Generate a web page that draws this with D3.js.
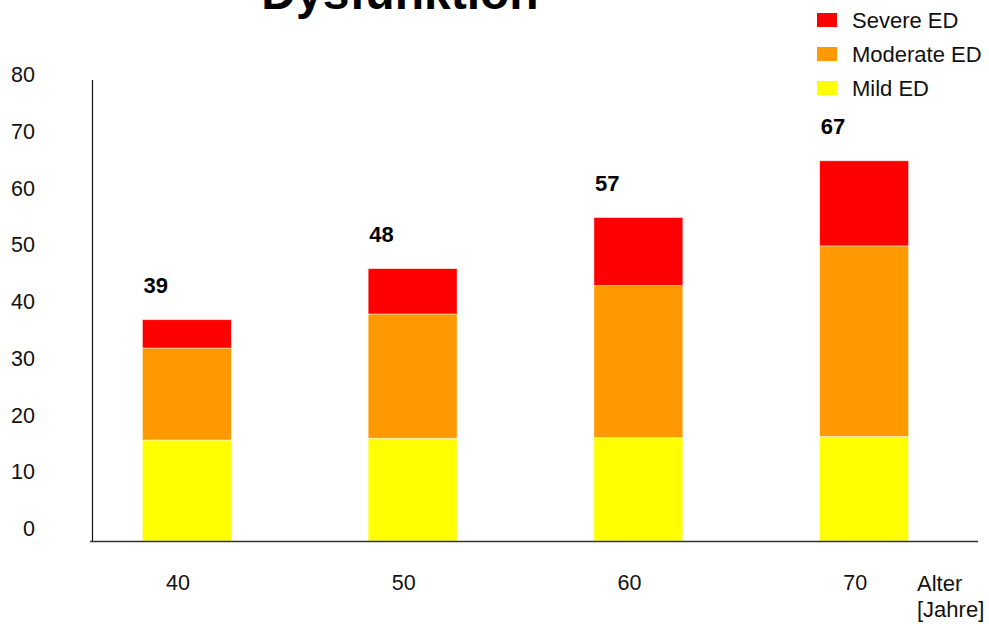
<!DOCTYPE html>
<html>
<head>
<meta charset="utf-8">
<script src="https://cdn.jsdelivr.net/npm/d3@7"></script>
<style>
  body { margin: 0; background: #fff; }
  svg { display: block; font-family: "Liberation Sans", Arial, sans-serif; }
</style>
</head>
<body>
<svg class="chart-svg"></svg>
<script>
const ages = ["40", "50", "60", "70"];
const mild = [17.8, 18.1, 18.2, 18.4];
const moderate = [16.2, 21.9, 26.8, 33.6];
const severe = [5.0, 8.0, 12.0, 15.0];
const totals = [39, 48, 57, 67];
const yTicks = [0, 10, 20, 30, 40, 50, 60, 70, 80];
const seriesNames = ["Mild ED", "Moderate ED", "Severe ED"];
const colors = ["#ffff00", "#ff9900", "#ff0000"];

const width = 989, height = 624;

const svg = d3.select(".chart-svg")
    .attr("width", width)
    .attr("height", height);

const rows = ages.map((a, i) => ({
    age: a,
    "Mild ED": mild[i],
    "Moderate ED": moderate[i],
    "Severe ED": severe[i]
}));

const stack = d3.stack().keys(seriesNames)(rows);

const x = d3.scaleBand()
    .domain(ages)
    .range([74, 977])
    .paddingInner(0.606)
    .paddingOuter(0.303);

const y = d3.scaleLinear()
    .domain([0, 80])
    .range([541, 87]);

const color = d3.scaleOrdinal().domain(seriesNames).range(colors);

// title (cut off at the top, as in the original slide)
svg.append("text")
    .attr("x", 400)
    .attr("y", 9)
    .attr("text-anchor", "middle")
    .attr("font-size", 48)
    .attr("font-weight", "bold")
    .text("Dysfunktion");

// bars
svg.append("g")
  .selectAll("g")
  .data(stack)
  .join("g")
    .attr("fill", d => color(d.key))
  .selectAll("rect")
  .data(d => d)
  .join("rect")
    .attr("x", d => x(d.data.age))
    .attr("width", x.bandwidth())
    .attr("y", d => y(d[1]))
    .attr("height", d => y(d[0]) - y(d[1]))
    .attr("stroke", "#fff")
    .attr("stroke-opacity", 0.6)
    .attr("stroke-width", 0.8);

// totals above bars
svg.append("g")
  .selectAll("text")
  .data(ages)
  .join("text")
    .attr("x", d => x(d) + 1)
    .attr("y", (d, i) => y(d3.sum(stack, s => s[i][1] - s[i][0])) - 27)
    .attr("font-size", 22)
    .attr("font-weight", "bold")
    .text((d, i) => totals[i]);

// y axis
const yAxis = svg.append("g")
    .attr("transform", "translate(92,0)")
    .call(d3.axisLeft(y).tickValues(yTicks).tickSize(0).tickPadding(57));
yAxis.select(".domain").remove();
yAxis.selectAll("text")
    .attr("font-size", 21.5)
    .attr("font-family", "Liberation Sans, Arial, sans-serif")
    .attr("fill", "#111")
    .attr("dy", "-0.25em");
svg.append("line")
    .attr("x1", 92.5).attr("x2", 92.5)
    .attr("y1", 80).attr("y2", 541)
    .attr("stroke", "#111")
    .attr("stroke-width", 1.2);

// x axis
const xAxis = svg.append("g")
    .attr("transform", "translate(0,541)")
    .call(d3.axisBottom(x).tickSize(0).tickPadding(34));
xAxis.select(".domain").remove();
xAxis.selectAll("text")
    .attr("font-size", 21.5)
    .attr("font-family", "Liberation Sans, Arial, sans-serif")
    .attr("fill", "#111")
    .attr("dx", -9);
svg.append("line")
    .attr("x1", 90).attr("x2", 978)
    .attr("y1", 541.5).attr("y2", 541.5)
    .attr("stroke", "#333")
    .attr("stroke-width", 1.5);

svg.append("text")
    .attr("x", 917).attr("y", 591)
    .attr("font-size", 22).attr("fill", "#111")
    .text("Alter");
svg.append("text")
    .attr("x", 917).attr("y", 617)
    .attr("font-size", 22).attr("fill", "#111")
    .text("[Jahre]");

// legend
const legendOrder = ["Severe ED", "Moderate ED", "Mild ED"];
const legend = svg.append("g")
  .selectAll("g")
  .data(legendOrder)
  .join("g")
    .attr("transform", (d, i) => `translate(817,${13 + i * 34})`);
legend.append("rect")
    .attr("width", 20)
    .attr("height", 14)
    .attr("fill", d => color(d));
legend.append("text")
    .attr("x", 35)
    .attr("y", 15)
    .attr("font-size", 22)
    .attr("fill", "#111")
    .text(d => d);
</script>
</body>
</html>
